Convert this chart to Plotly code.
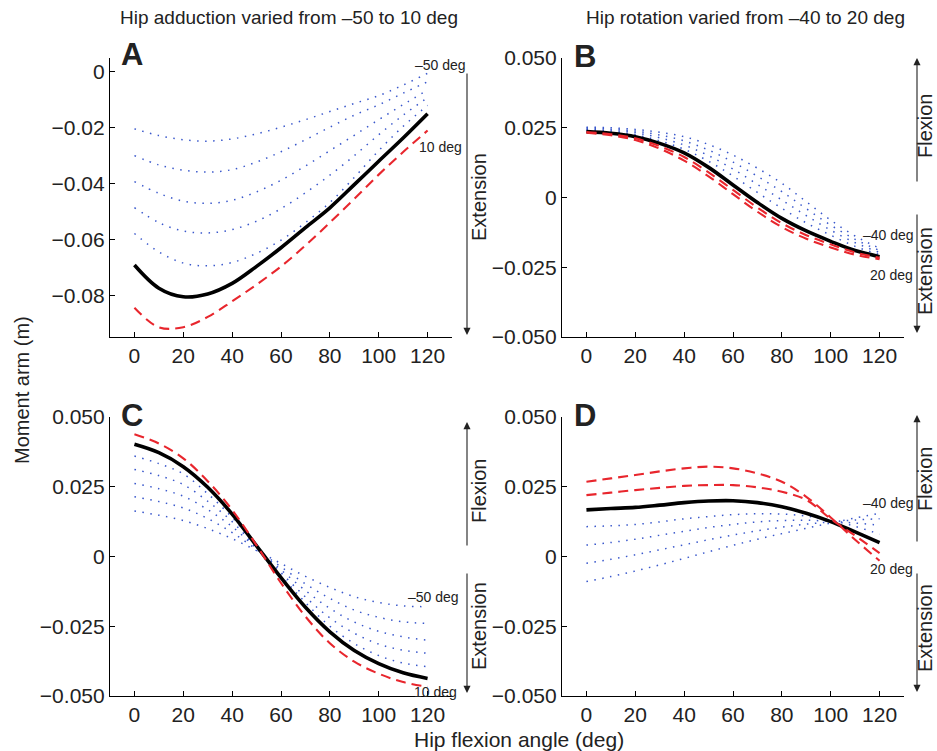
import plotly.graph_objects as go

W, H = 937, 751
FONT = "Liberation Sans, Arial, Helvetica, sans-serif"

# ---------------- data ----------------
flex_angle = [0, 10, 20, 30, 40, 50, 60, 70, 80, 90, 100, 110, 120]

# Panel A: hip adduction varied (-50 .. -10 deg dotted, 0 deg solid, 10 deg dashed)
A_blue = [
    [-0.0204, -0.0228, -0.0243, -0.0248, -0.0240, -0.0222, -0.0198, -0.0171, -0.0142, -0.0113, -0.0085, -0.0047, -0.0005],
    [-0.0300, -0.0333, -0.0352, -0.0359, -0.0350, -0.0323, -0.0286, -0.0243, -0.0198, -0.0155, -0.0118, -0.0076, -0.0035],
    [-0.0393, -0.0435, -0.0463, -0.0471, -0.0460, -0.0430, -0.0388, -0.0337, -0.0282, -0.0227, -0.0171, -0.0117, -0.0065],
    [-0.0486, -0.0540, -0.0570, -0.0577, -0.0565, -0.0535, -0.0490, -0.0433, -0.0370, -0.0300, -0.0225, -0.0155, -0.0092],
    [-0.0579, -0.0645, -0.0685, -0.0695, -0.0683, -0.0650, -0.0603, -0.0540, -0.0468, -0.0378, -0.0282, -0.0195, -0.0120],
]
A_black = [-0.0692, -0.0775, -0.0806, -0.0796, -0.0758, -0.0697, -0.0630, -0.0558, -0.0487, -0.0404, -0.0320, -0.0237, -0.0150]
A_red = [[-0.0845, -0.0915, -0.0915, -0.0878, -0.0822, -0.0762, -0.0697, -0.0622, -0.0540, -0.0455, -0.0368, -0.0287, -0.0210]]

# Panel B: hip rotation varied
B_blue = [
    [0.0252, 0.0250, 0.0244, 0.0234, 0.0218, 0.0190, 0.0152, 0.0105, 0.0051, -0.0015, -0.0081, -0.0138, -0.0182],
    [0.0248, 0.0245, 0.0238, 0.0224, 0.0203, 0.0170, 0.0127, 0.0076, 0.0021, -0.0040, -0.0099, -0.0150, -0.0190],
    [0.0244, 0.0240, 0.0232, 0.0214, 0.0188, 0.0150, 0.0102, 0.0047, -0.0009, -0.0065, -0.0117, -0.0162, -0.0197],
    [0.0240, 0.0235, 0.0225, 0.0203, 0.0173, 0.0130, 0.0077, 0.0018, -0.0039, -0.0091, -0.0135, -0.0175, -0.0205],
]
B_black = [0.0236, 0.0230, 0.0218, 0.0194, 0.0160, 0.0108, 0.0045, -0.0018, -0.0075, -0.0120, -0.0157, -0.0190, -0.0212]
B_red = [
    [0.0235, 0.0227, 0.0212, 0.0184, 0.0145, 0.0090, 0.0027, -0.0036, -0.0092, -0.0135, -0.0168, -0.0197, -0.0216],
    [0.0232, 0.0223, 0.0206, 0.0175, 0.0132, 0.0076, 0.0012, -0.0051, -0.0106, -0.0148, -0.0179, -0.0205, -0.0221],
]

# Panel C: hip adduction varied
C_blue = [
    [0.0360, 0.0333, 0.0296, 0.0225, 0.0140, 0.0035, -0.0068, -0.0165, -0.0250, -0.0312, -0.0355, -0.0382, -0.0395],
    [0.0312, 0.0290, 0.0258, 0.0198, 0.0125, 0.0032, -0.0058, -0.0145, -0.0220, -0.0275, -0.0314, -0.0336, -0.0347],
    [0.0262, 0.0243, 0.0216, 0.0168, 0.0107, 0.0029, -0.0048, -0.0122, -0.0186, -0.0235, -0.0268, -0.0288, -0.0300],
    [0.0214, 0.0197, 0.0174, 0.0136, 0.0086, 0.0025, -0.0037, -0.0098, -0.0150, -0.0192, -0.0218, -0.0234, -0.0240],
    [0.0163, 0.0148, 0.0129, 0.0100, 0.0064, 0.0021, -0.0025, -0.0071, -0.0111, -0.0144, -0.0165, -0.0177, -0.0180],
]
C_black = [0.0402, 0.0372, 0.0322, 0.0248, 0.0152, 0.0038, -0.0076, -0.0182, -0.0270, -0.0337, -0.0384, -0.0417, -0.0437]
C_red = [[0.0438, 0.0405, 0.0352, 0.0270, 0.0167, 0.0040, -0.0095, -0.0215, -0.0311, -0.0377, -0.0420, -0.0450, -0.0467]]

# Panel D: hip rotation varied
D_blue = [
    [0.0107, 0.0110, 0.0115, 0.0124, 0.0135, 0.0143, 0.0150, 0.0153, 0.0152, 0.0145, 0.0130, 0.0108, 0.0080],
    [0.0041, 0.0050, 0.0062, 0.0076, 0.0090, 0.0104, 0.0115, 0.0124, 0.0129, 0.0130, 0.0126, 0.0120, 0.0112],
    [-0.0024, -0.0010, 0.0006, 0.0024, 0.0042, 0.0060, 0.0077, 0.0092, 0.0105, 0.0116, 0.0124, 0.0131, 0.0135],
    [-0.0090, -0.0072, -0.0052, -0.0030, -0.0007, 0.0017, 0.0040, 0.0062, 0.0082, 0.0101, 0.0120, 0.0138, 0.0155],
]
D_black = [0.0167, 0.0172, 0.0176, 0.0184, 0.0193, 0.0199, 0.0200, 0.0193, 0.0178, 0.0155, 0.0125, 0.0088, 0.0050]
D_red = [
    [0.0268, 0.0280, 0.0292, 0.0305, 0.0316, 0.0322, 0.0316, 0.0298, 0.0268, 0.0214, 0.0140, 0.0060, -0.0015],
    [0.0220, 0.0229, 0.0238, 0.0246, 0.0253, 0.0256, 0.0256, 0.0248, 0.0232, 0.0203, 0.0135, 0.0075, 0.0012],
]

x_ticks = [0, 20, 40, 60, 80, 100, 120]
x_ticktext = ["0", "20", "40", "60", "80", "100", "120"]
A_yticks = [0, -0.02, -0.04, -0.06, -0.08]
A_yticktext = ["0", "\u22120.02", "\u22120.04", "\u22120.06", "\u22120.08"]
BCD_yticks = [0.05, 0.025, 0, -0.025, -0.05]
BCD_yticktext = ["0.050", "0.025", "0", "\u22120.025", "\u22120.050"]

col_titles = ["Hip adduction varied from \u201350 to 10 deg", "Hip rotation varied from \u201340 to 20 deg"]
panel_letters = ["A", "B", "C", "D"]
y_title = "Moment arm (m)"
x_title = "Hip flexion angle (deg)"

# ---------------- figure ----------------
BLUE = "#3a58cc"
RED = "#e8262d"
BLACK = "#000000"
TXT = "#222222"


def px(x):
    return x / W


def py(y):
    return 1 - y / H


fig = go.Figure()

panels = [
    ("x", "y", A_blue, A_black, A_red),
    ("x2", "y2", B_blue, B_black, B_red),
    ("x3", "y3", C_blue, C_black, C_red),
    ("x4", "y4", D_blue, D_black, D_red),
]

for xa, ya, blues, black, reds in panels:
    for s in blues:
        fig.add_trace(go.Scatter(x=flex_angle, y=s, xaxis=xa, yaxis=ya, mode="lines",
                                 line=dict(color=BLUE, width=1.5, dash="1.5px,6.5px", shape="spline"),
                                 showlegend=False, hoverinfo="skip"))
    fig.add_trace(go.Scatter(x=flex_angle, y=black, xaxis=xa, yaxis=ya, mode="lines",
                             line=dict(color=BLACK, width=3.6, shape="spline"),
                             showlegend=False, hoverinfo="skip"))
    for s in reds:
        fig.add_trace(go.Scatter(x=flex_angle, y=s, xaxis=xa, yaxis=ya, mode="lines",
                                 line=dict(color=RED, width=2.1, dash="10px,6px", shape="spline"),
                                 showlegend=False, hoverinfo="skip"))

xdom_left = [px(110), px(452)]
xdom_right = [px(562), px(904)]
ydom_top = [py(337), py(58)]
ydom_bot = [py(696), py(417)]

axis_common = dict(showline=True, linecolor="black", linewidth=1.2, ticks="inside", ticklen=5,
                   tickcolor="black", tickwidth=1, showgrid=False, zeroline=False, mirror=False,
                   automargin=False, fixedrange=True, tickfont=dict(family=FONT, size=21, color=TXT))


def xaxis(dom, anchor):
    return dict(domain=dom, anchor=anchor, range=[-10, 130], tickvals=x_ticks, ticktext=x_ticktext,
                **axis_common)


def yaxis(dom, anchor, rng, tv, tt):
    return dict(domain=dom, anchor=anchor, range=rng, tickvals=tv, ticktext=tt, **axis_common)


annotations = []

# column titles
for t, cx in zip(col_titles, [289, 745]):
    annotations.append(dict(x=px(cx), y=py(18), text=t, xref="paper", yref="paper", showarrow=False,
                            xanchor="center", yanchor="middle",
                            font=dict(family=FONT, size=19, color=TXT)))

# panel letters
for letter, (lx, ly) in zip(panel_letters, [(132, 55), (585, 56), (132, 415), (585, 415)]):
    annotations.append(dict(x=px(lx), y=py(ly), text=letter, xref="paper", yref="paper", showarrow=False,
                            xanchor="center", yanchor="middle",
                            font=dict(family=FONT, size=31, color=TXT, weight="bold")))

# axis titles
annotations.append(dict(x=px(22), y=py(390), text=y_title, textangle=-90, xref="paper", yref="paper",
                        showarrow=False, xanchor="center", yanchor="middle",
                        font=dict(family=FONT, size=20, color=TXT)))
annotations.append(dict(x=px(519), y=py(739), text=x_title, xref="paper", yref="paper",
                        showarrow=False, xanchor="center", yanchor="middle",
                        font=dict(family=FONT, size=21, color=TXT)))

# small degree labels
deg_labels = [
    ("\u201350 deg", 440, 65), ("10 deg", 440, 147),
    ("\u201340 deg", 888, 235), ("20 deg", 891, 275),
    ("\u201350 deg", 433, 597), ("10 deg", 435, 692),
    ("\u201340 deg", 888, 503), ("20 deg", 891, 569),
]
for t, lx, ly in deg_labels:
    annotations.append(dict(x=px(lx), y=py(ly), text=t, xref="paper", yref="paper", showarrow=False,
                            xanchor="center", yanchor="middle",
                            font=dict(family=FONT, size=14, color=TXT)))

# direction labels
dir_labels = [
    ("Extension", 479, 197),
    ("Flexion", 925, 126), ("Extension", 925, 271),
    ("Flexion", 479, 491), ("Extension", 479, 626),
    ("Flexion", 925, 479), ("Extension", 925, 628),
]
for t, lx, ly in dir_labels:
    annotations.append(dict(x=px(lx), y=py(ly), text=t, textangle=-90, xref="paper", yref="paper",
                            showarrow=False, xanchor="center", yanchor="middle",
                            font=dict(family=FONT, size=20, color=TXT)))

# arrows: (x, head_y, tail_y)
arrows = [
    (467, 335, 72),
    (917, 58, 183), (917, 333, 213),
    (467, 422, 547), (467, 693, 572),
    (917, 415, 543), (917, 692, 572),
]
for ax_, hy, ty in arrows:
    annotations.append(dict(x=px(ax_), y=py(hy), xref="paper", yref="paper", text="", showarrow=True,
                            ax=0, ay=ty - hy, axref="pixel", ayref="pixel", arrowhead=2, arrowsize=1.3,
                            arrowwidth=1.1, arrowcolor=TXT, standoff=0, startstandoff=0))

fig.update_layout(
    width=W, height=H,
    margin=dict(l=0, r=0, t=0, b=0, autoexpand=False),
    paper_bgcolor="white", plot_bgcolor="white",
    xaxis=xaxis(xdom_left, "y"),
    yaxis=yaxis(ydom_top, "x", [-0.095, 0.005], A_yticks, A_yticktext),
    xaxis2=xaxis(xdom_right, "y2"),
    yaxis2=yaxis(ydom_top, "x2", [-0.05, 0.05], BCD_yticks, BCD_yticktext),
    xaxis3=xaxis(xdom_left, "y3"),
    yaxis3=yaxis(ydom_bot, "x3", [-0.05, 0.05], BCD_yticks, BCD_yticktext),
    xaxis4=xaxis(xdom_right, "y4"),
    yaxis4=yaxis(ydom_bot, "x4", [-0.05, 0.05], BCD_yticks, BCD_yticktext),
    annotations=annotations,
    showlegend=False,
    hovermode=False,
)

# remove the browser's default page margin so the figure sits at the window corner
fig.write_html("out.html", config={"displayModeBar": False},
               post_script="document.body.style.margin='0px';document.body.style.overflow='hidden';")
